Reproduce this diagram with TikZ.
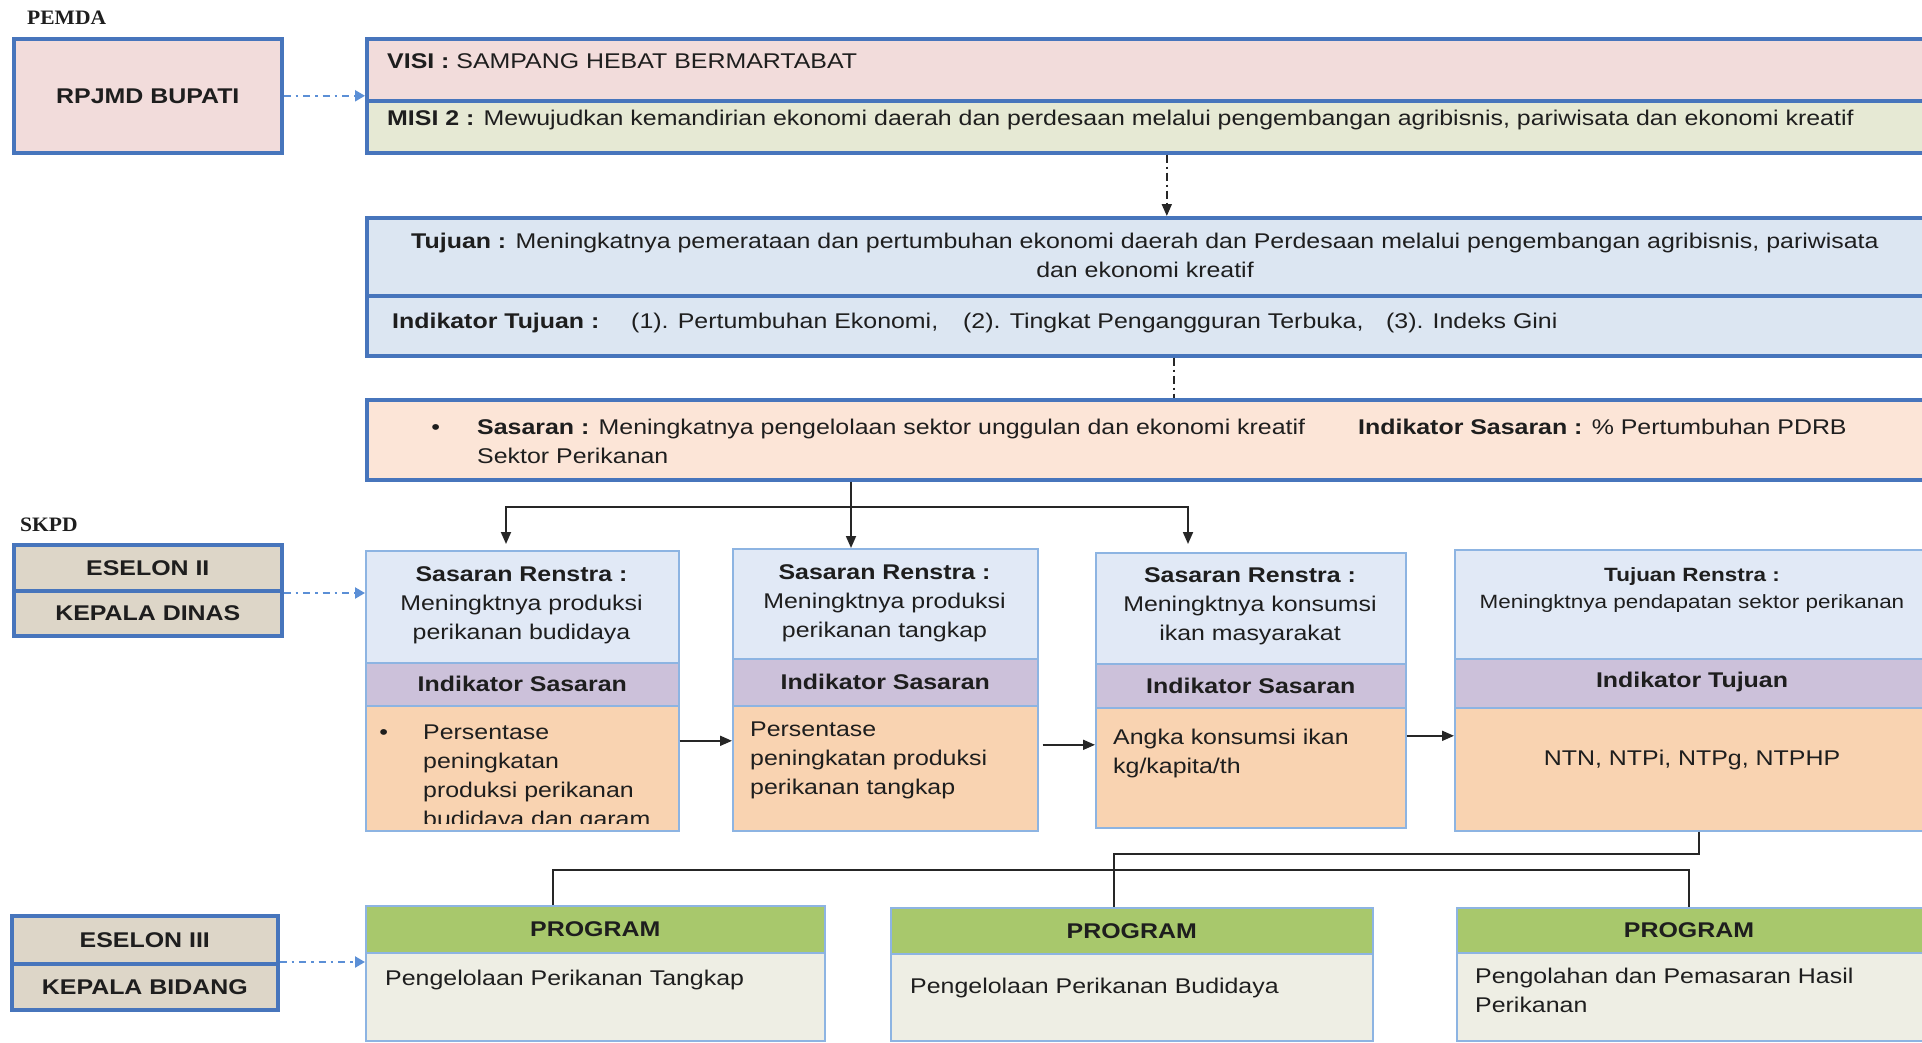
\documentclass[tikz,border=0pt]{standalone}
\usepackage{fontspec}
\setmainfont{Liberation Sans}[FakeStretch=1.17]
\newfontfamily\headserif{Liberation Serif}[FakeStretch=1.05]
\usetikzlibrary{arrows.meta}

\definecolor{ink}{HTML}{1E1E1E}
\definecolor{boxblue}{HTML}{4775BC}
\definecolor{edgeblue}{HTML}{8DB4E2}
\definecolor{dashblue}{HTML}{5B8FD6}
\definecolor{pinkfill}{HTML}{F2DCDB}
\definecolor{misifill}{HTML}{E6E9D4}
\definecolor{tujfill}{HTML}{DCE6F2}
\definecolor{sasfill}{HTML}{FCE5D7}
\definecolor{esfill}{HTML}{DDD6C8}
\definecolor{renfill}{HTML}{E1E9F6}
\definecolor{purpfill}{HTML}{CCC1DA}
\definecolor{peachfill}{HTML}{F9D3B1}
\definecolor{greenfill}{HTML}{A8C86C}
\definecolor{bodyfill}{HTML}{EEEEE4}
\definecolor{connline}{HTML}{262626}

\begin{document}
\begin{tikzpicture}[x=1pt,y=-1pt,
  thickbox/.style={draw=boxblue, line width=3.6pt, rectangle, anchor=north west, inner sep=0pt},
  thinbox/.style={draw=edgeblue, line width=1.6pt, rectangle, anchor=north west, inner sep=0pt},
  txt/.style={inner sep=0pt, text=ink, font=\fontsize{21.3}{29}\selectfont},
  hd/.style={inner sep=0pt, text=ink, font=\bfseries\fontsize{21.3}{29}\selectfont},
  small/.style={inner sep=0pt, text=ink, font=\fontsize{19.2}{27}\selectfont},
  levelhead/.style={inner sep=0pt, text=ink, font=\headserif\bfseries\fontsize{20.5}{24}\selectfont},
  conn/.style={draw=connline, line width=1.8pt},
  arr/.style={conn, -{Triangle[length=12pt,width=10pt]}},
  bluearr/.style={draw=dashblue, line width=2.2pt, dash pattern=on 7pt off 5pt on 2.5pt off 5pt,
                  -{Triangle[length=10pt,width=11pt]}},
  darr/.style={draw=connline, line width=1.8pt, dash pattern=on 8pt off 4pt on 2pt off 4pt,
               -{Triangle[length=12pt,width=10pt]}},
  ddash/.style={draw=connline, line width=1.8pt, dash pattern=on 8pt off 4pt on 2pt off 4pt},
]
\useasboundingbox (0,0) rectangle (1922,1042);
\fill[white] (0,0) rectangle (1922,1042);
\clip (0,0) rectangle (1922,1042);

% ---------- PEMDA level ----------
\node[levelhead, anchor=base west] (pemda) at (27,24) {PEMDA};
\node[thickbox, fill=pinkfill, minimum width=268pt, minimum height=114pt, hd] (rpjmd) at (12,37) {RPJMD BUPATI};

\node[thickbox, fill=pinkfill, minimum width=1565pt, minimum height=62pt] (visi) at (365,37) {};
\node[thickbox, fill=misifill, minimum width=1565pt, minimum height=52pt] (misi) at (365,99) {};
\node[txt, anchor=base west] (visitxt) at (387,68) {\textbf{VISI :} SAMPANG HEBAT BERMARTABAT};
\node[txt, anchor=base west] (misitxt) at (387,125) {\textbf{MISI 2 :} Mewujudkan kemandirian ekonomi daerah dan perdesaan melalui pengembangan agribisnis, pariwisata dan ekonomi kreatif};

\node[thickbox, fill=tujfill, minimum width=1565pt, minimum height=78pt] (tujuan) at (365,216) {};
\node[thickbox, fill=tujfill, minimum width=1565pt, minimum height=60pt] (indtuj) at (365,294) {};
\node[txt, anchor=north, align=center] (tujtxt) at (1145,227.7)
  {\strut\textbf{Tujuan :} Meningkatnya pemerataan dan pertumbuhan ekonomi daerah dan Perdesaan melalui pengembangan agribisnis, pariwisata\\dan ekonomi kreatif};
\node[txt, anchor=base west] (indtujtxt) at (392,328)
  {\makebox[239pt][l]{\textbf{Indikator Tujuan :}}\makebox[332pt][l]{(1). Pertumbuhan Ekonomi,}\makebox[423pt][l]{(2). Tingkat Pengangguran Terbuka,}(3). Indeks Gini};

\node[thickbox, fill=sasfill, minimum width=1565pt, minimum height=80pt] (sas) at (365,398) {};
\node[txt, anchor=north west, align=left] (sastxt) at (477,413.7)
  {\strut\llap{\textbullet\hspace{37pt}}\makebox[881pt][l]{\textbf{Sasaran :} Meningkatnya pengelolaan sektor unggulan dan ekonomi kreatif}\textbf{Indikator Sasaran :} \% Pertumbuhan PDRB\\Sektor Perikanan};

% ---------- SKPD level ----------
\node[levelhead, anchor=base west] (skpd) at (20,531) {SKPD};
\node[thickbox, fill=esfill, minimum width=268pt, minimum height=46pt, hd] (es2) at (12,543) {ESELON II};
\node[thickbox, fill=esfill, minimum width=268pt, minimum height=45pt, hd] (kd) at (12,589) {KEPALA DINAS};

% Renstra columns
\node[thinbox, fill=renfill, minimum width=313pt, minimum height=112pt] (r1a) at (365,550) {};
\node[thinbox, fill=purpfill, minimum width=313pt, minimum height=43pt, hd] (r1b) at (365,662) {Indikator Sasaran};
\node[thinbox, fill=peachfill, minimum width=313pt, minimum height=125pt] (r1c) at (365,705) {};

\node[thinbox, fill=renfill, minimum width=305pt, minimum height=110pt] (r2a) at (732,548) {};
\node[thinbox, fill=purpfill, minimum width=305pt, minimum height=47pt, hd] (r2b) at (732,658) {Indikator Sasaran};
\node[thinbox, fill=peachfill, minimum width=305pt, minimum height=125pt] (r2c) at (732,705) {};

\node[thinbox, fill=renfill, minimum width=310pt, minimum height=111pt] (r3a) at (1095,552) {};
\node[thinbox, fill=purpfill, minimum width=310pt, minimum height=44pt, hd] (r3b) at (1095,663) {Indikator Sasaran};
\node[thinbox, fill=peachfill, minimum width=310pt, minimum height=120pt] (r3c) at (1095,707) {};

\node[thinbox, fill=renfill, minimum width=476pt, minimum height=109pt] (r4a) at (1454,549) {};
\node[thinbox, fill=purpfill, minimum width=476pt, minimum height=49pt] (r4b) at (1454,658) {};
\node[hd, anchor=center] (r4btxt) at (1692,682) {Indikator Tujuan};
\node[thinbox, fill=peachfill, minimum width=476pt, minimum height=123pt] (r4c) at (1454,707) {};

\node[txt, anchor=north, align=center] (r1atxt) at (521.5,560.7)
  {\strut\textbf{Sasaran Renstra :}\\Meningktnya produksi\\perikanan budidaya};
\node[txt, anchor=north, align=center] (r2atxt) at (884.5,558.7)
  {\strut\textbf{Sasaran Renstra :}\\Meningktnya produksi\\perikanan tangkap};
\node[txt, anchor=north, align=center] (r3atxt) at (1250,561.7)
  {\strut\textbf{Sasaran Renstra :}\\Meningktnya konsumsi\\ikan masyarakat};
\node[small, anchor=north, align=center] (r4atxt) at (1692,562.4)
  {\strut\textbf{Tujuan Renstra :}\\Meningktnya pendapatan sektor perikanan};

\begin{scope}
  \clip (r1c.north west) rectangle ([yshift=8pt]r1c.south east);
  \node[txt, anchor=north west, align=left] (r1ctxt) at (423,718.7)
    {\strut\llap{\textbullet\hspace{35pt}}Persentase\\peningkatan\\produksi perikanan\\budidaya dan garam};
\end{scope}
\node[txt, anchor=north west, align=left] (r2ctxt) at (750,715.7)
  {\strut Persentase\\peningkatan produksi\\perikanan tangkap};
\node[txt, anchor=north west, align=left] (r3ctxt) at (1113,723.7)
  {\strut Angka konsumsi ikan\\kg/kapita/th};
\node[txt, anchor=base] (r4ctxt) at (1692,765) {NTN, NTPi, NTPg, NTPHP};

% ---------- Eselon III level ----------
\node[thickbox, fill=esfill, minimum width=266pt, minimum height=48pt, hd] (es3) at (10,914) {ESELON III};
\node[thickbox, fill=esfill, minimum width=266pt, minimum height=46pt, hd] (kb) at (10,962) {KEPALA BIDANG};

\node[thinbox, fill=greenfill, minimum width=459pt, minimum height=47pt, hd] (p1a) at (365,905) {PROGRAM};
\node[thinbox, fill=bodyfill, minimum width=459pt, minimum height=88pt] (p1b) at (365,952) {};
\node[thinbox, fill=greenfill, minimum width=482pt, minimum height=46pt, hd] (p2a) at (890,907) {PROGRAM};
\node[thinbox, fill=bodyfill, minimum width=482pt, minimum height=87pt] (p2b) at (890,953) {};
\node[thinbox, fill=greenfill, minimum width=474pt, minimum height=45pt] (p3a) at (1456,907) {};
\node[hd, anchor=center] (p3atxt) at (1689,930) {PROGRAM};
\node[thinbox, fill=bodyfill, minimum width=474pt, minimum height=88pt] (p3b) at (1456,952) {};

\node[txt, anchor=base west] (p1txt) at (385,985) {Pengelolaan Perikanan Tangkap};
\node[txt, anchor=base west] (p2txt) at (910,993) {Pengelolaan Perikanan Budidaya};
\node[txt, anchor=north west, align=left] (p3txt) at (1475,962.7) {\strut Pengolahan dan Pemasaran Hasil\\Perikanan};

% ---------- connectors ----------
\draw[bluearr] (rpjmd.east) -- (rpjmd.east -| visi.west);
\coordinate (s2) at ([yshift=-4pt]kd.north east);
\draw[bluearr] (s2) -- (s2 -| r1a.west);
\coordinate (s3) at (kb.north east);
\draw[bluearr] (s3) -- (s3 -| p1b.west);

\draw[darr] ([xshift=17.5pt]misi.south) -- ([xshift=17.5pt]tujuan.north);
\draw[ddash] ([xshift=24.5pt]indtuj.south) -- ([xshift=24.5pt]sas.north);

\coordinate (j1) at (506,507);
\coordinate (j2) at (851,507);
\coordinate (j3) at (1188,507);
\draw[arr] (sas.south -| j2) -- (r2a.north -| j2);
\draw[arr, shorten >=6pt] (j2) -- (j1) -- (r1a.north -| j1);
\draw[arr, shorten >=8pt] (j2) -- (j3) -- (r3a.north -| j3);

\draw[arr] ([yshift=27.5pt]r1c.east) -- ([yshift=27.5pt]r2c.west);
\draw[arr] ([shift={(4pt,23.5pt)}]r2c.east) -- ([yshift=23pt]r3c.west);
\draw[arr] ([yshift=32pt]r3c.east) -- ([yshift=33.5pt]r4c.west);

\coordinate (b1) at (1699,854);
\coordinate (b2) at (1114,854);
\coordinate (b3) at (553,870);
\coordinate (b4) at (1689,870);
\draw[conn] (r4c.south -| b1) -- (b1) -- (b2) -- (p2a.north -| b2);
\draw[conn] (p1a.north -| b3) -- (b3) -- (b4) -- (p3a.north -| b4);
\end{tikzpicture}
\end{document}
